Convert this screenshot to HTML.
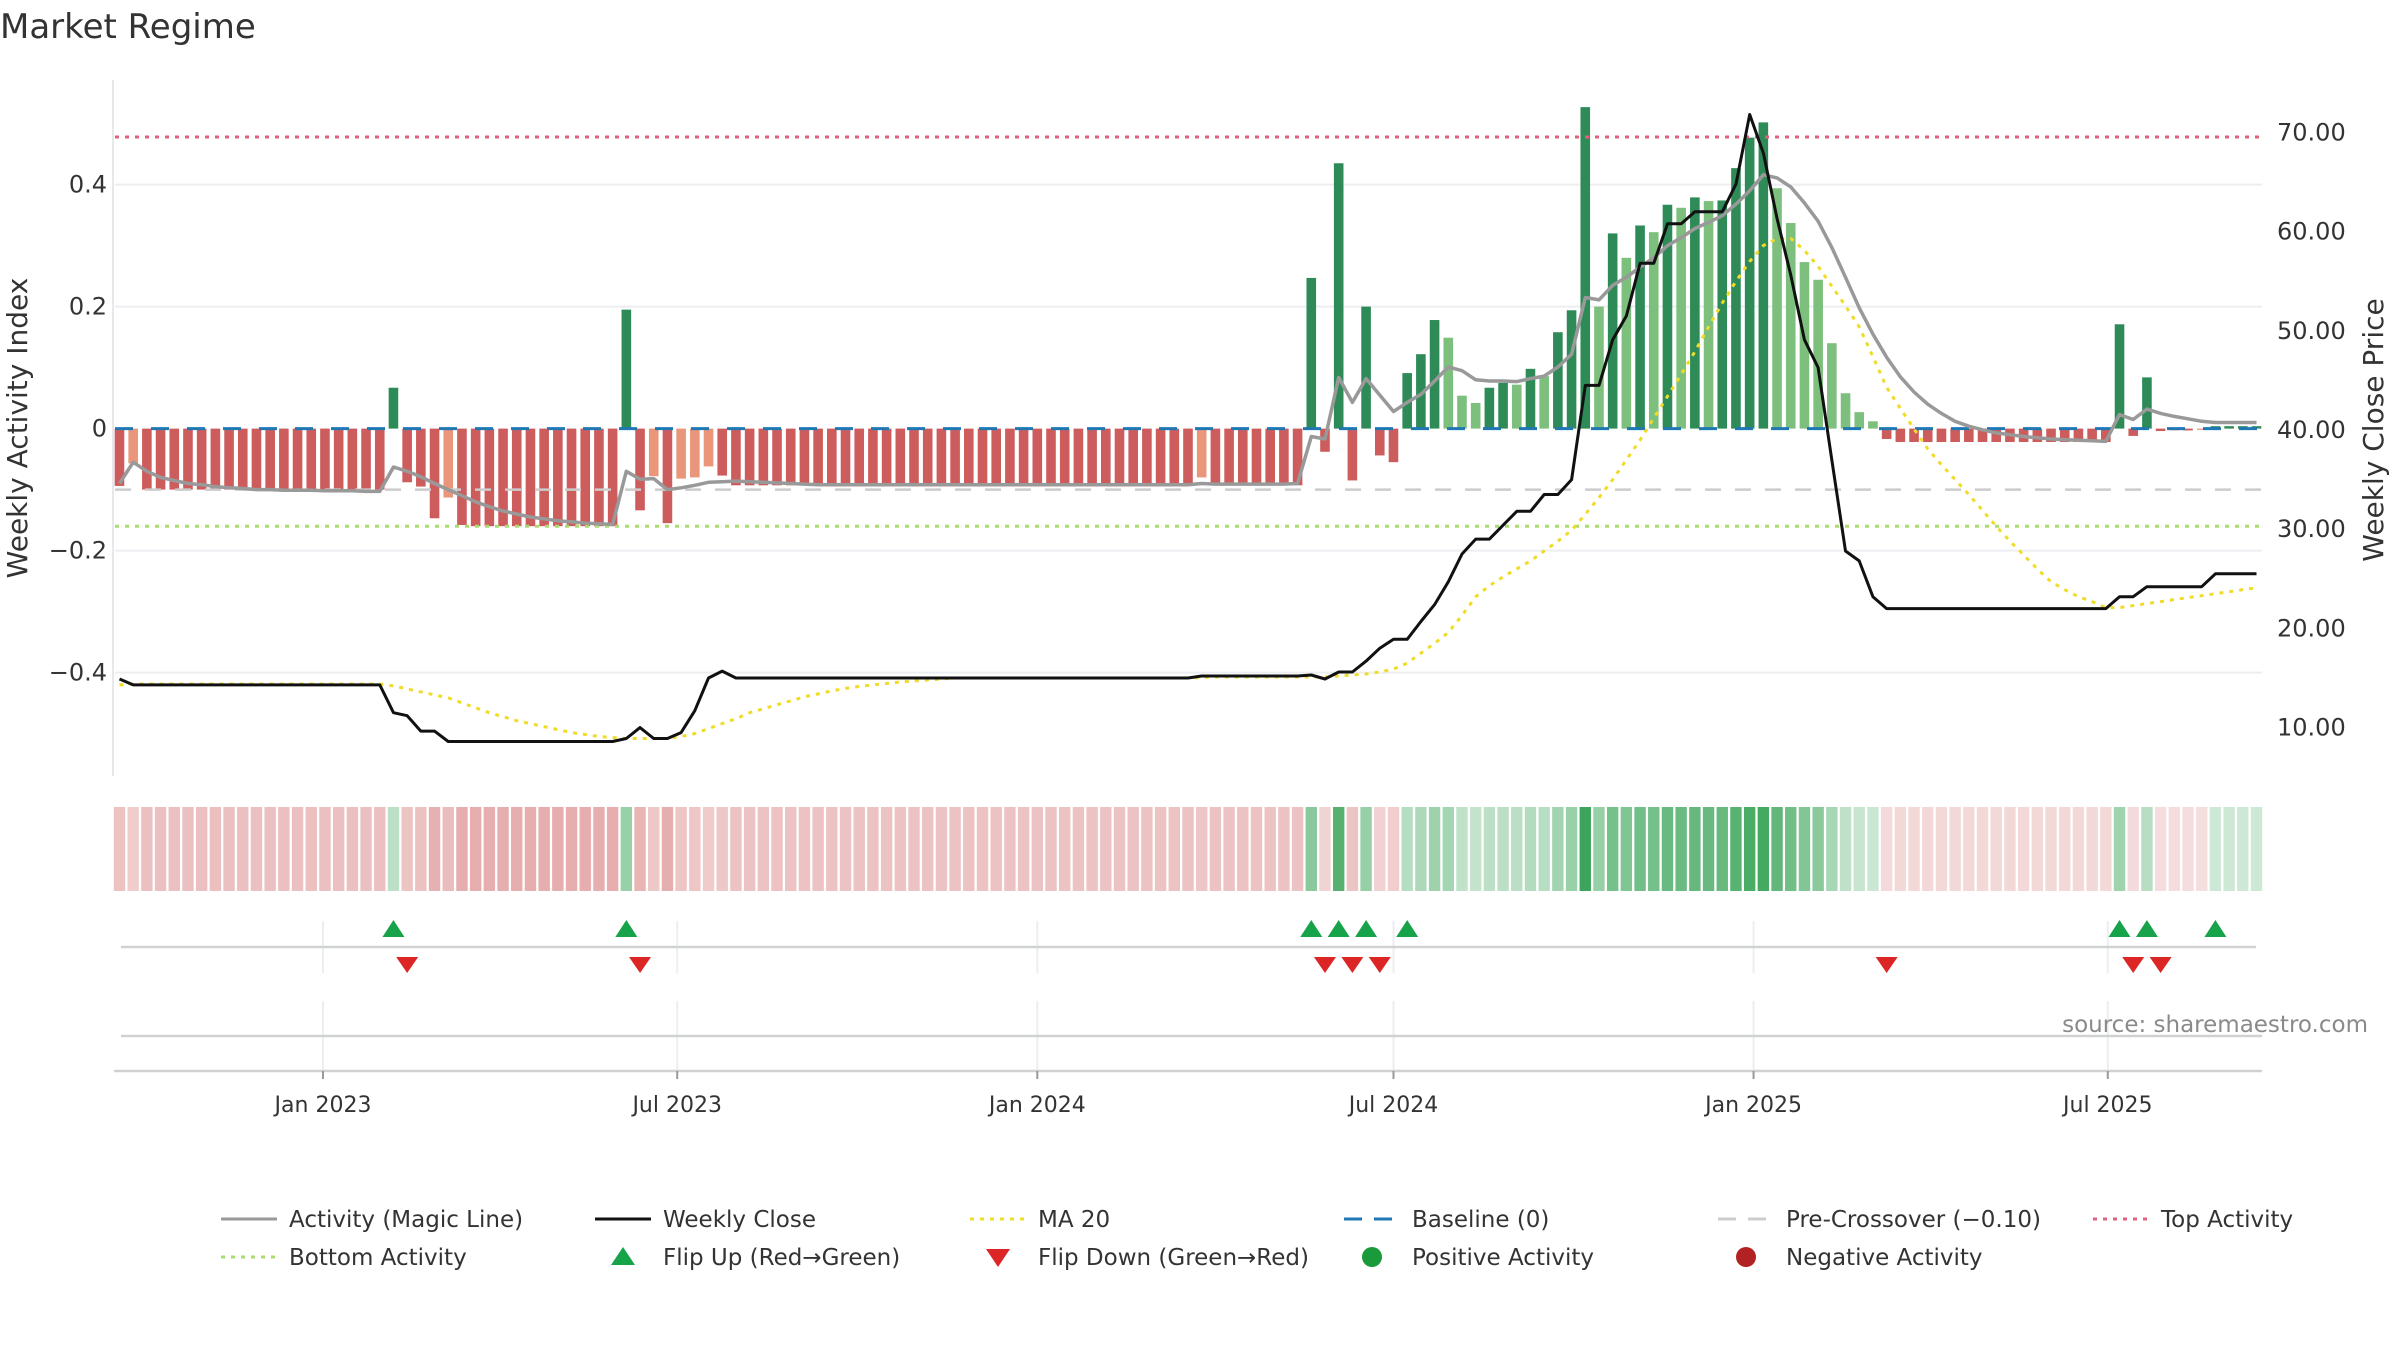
<!DOCTYPE html>
<html><head><meta charset="utf-8"><style>
html,body{margin:0;padding:0;background:#fff;}
body{width:2400px;height:1350px;overflow:hidden;font-family:"Liberation Sans","DejaVu Sans",sans-serif;}
svg text{font-family:"DejaVu Sans","Liberation Sans",sans-serif;}
</style></head><body>
<svg id="chart" width="2400" height="1350" viewBox="0 0 2400 1350" xmlns="http://www.w3.org/2000/svg">
<text x="0" y="38" font-size="34" fill="#333">Market Regime</text>
<g id="grid"></g><g id="bars"></g><g id="lines"></g><g id="strip"></g><g id="markers"></g><g id="axes"></g>
<text transform="translate(27,428) rotate(-90)" text-anchor="middle" font-size="28" fill="#333">Weekly Activity Index</text>
<text transform="translate(2383,430) rotate(-90)" text-anchor="middle" font-size="28" fill="#333">Weekly Close Price</text>
<text x="2368" y="1032" text-anchor="end" font-size="23" fill="#8a8a8a">source: sharemaestro.com</text>
<g id="legend"></g>
</svg>
<script>
const activity=[-0.094,-0.057,-0.1,-0.1,-0.1,-0.1,-0.1,-0.1,-0.1,-0.1,-0.1,-0.1,-0.1,-0.1,-0.1,-0.1,-0.1,-0.1,-0.1,-0.1,
0.067,-0.088,-0.095,-0.147,-0.113,-0.158,-0.16,-0.16,-0.16,-0.16,-0.16,-0.16,-0.16,-0.16,-0.16,-0.16,-0.16,0.195,-0.134,-0.078,
-0.155,-0.082,-0.08,-0.062,-0.077,-0.093,-0.093,-0.093,-0.093,-0.093,-0.093,-0.093,-0.093,-0.093,-0.093,-0.093,-0.093,-0.093,-0.093,-0.093,
-0.093,-0.093,-0.093,-0.093,-0.093,-0.093,-0.093,-0.093,-0.093,-0.093,-0.093,-0.093,-0.093,-0.093,-0.093,-0.093,-0.093,-0.093,-0.093,-0.08,
-0.093,-0.093,-0.093,-0.093,-0.093,-0.093,-0.093,0.247,-0.038,0.435,-0.085,0.2,-0.044,-0.055,0.091,0.122,0.178,0.149,0.054,0.042,
0.067,0.075,0.072,0.098,0.086,0.158,0.194,0.527,0.2,0.32,0.28,0.333,0.322,0.367,0.362,0.379,0.373,0.374,0.427,0.477,
0.502,0.394,0.337,0.273,0.244,0.14,0.058,0.027,0.012,-0.017,-0.022,-0.022,-0.022,-0.022,-0.022,-0.022,-0.022,-0.022,-0.022,-0.022,
-0.022,-0.022,-0.022,-0.022,-0.022,-0.022,0.171,-0.012,0.084,-0.004,-0.003,-0.003,-0.002,0.004,0.004,0.004,0.004];
const magicLine=[-0.09,-0.055,-0.07,-0.08,-0.085,-0.09,-0.092,-0.095,-0.097,-0.098,-0.1,-0.1,-0.101,-0.101,-0.101,-0.102,-0.102,-0.102,-0.103,-0.103,
-0.063,-0.07,-0.079,-0.09,-0.1,-0.11,-0.12,-0.128,-0.135,-0.14,-0.145,-0.148,-0.151,-0.153,-0.155,-0.156,-0.157,-0.07,-0.083,-0.082,
-0.1,-0.097,-0.093,-0.088,-0.087,-0.086,-0.087,-0.088,-0.089,-0.09,-0.091,-0.092,-0.092,-0.092,-0.092,-0.092,-0.092,-0.092,-0.092,-0.092,
-0.092,-0.092,-0.092,-0.092,-0.092,-0.092,-0.092,-0.092,-0.092,-0.092,-0.092,-0.092,-0.092,-0.092,-0.092,-0.092,-0.092,-0.092,-0.092,-0.09,
-0.091,-0.091,-0.091,-0.091,-0.091,-0.091,-0.09,-0.013,-0.017,0.084,0.043,0.082,0.055,0.028,0.043,0.056,0.078,0.101,0.095,0.08,
0.078,0.078,0.077,0.082,0.086,0.101,0.122,0.215,0.211,0.235,0.248,0.265,0.28,0.3,0.313,0.328,0.338,0.349,0.368,0.39,
0.416,0.411,0.396,0.37,0.34,0.297,0.248,0.198,0.155,0.117,0.085,0.06,0.04,0.025,0.012,0.004,-0.002,-0.007,-0.01,-0.013,
-0.015,-0.017,-0.018,-0.019,-0.02,-0.021,0.023,0.015,0.032,0.025,0.02,0.016,0.012,0.01,0.01,0.01,0.01];
const weeklyClose=[14.9,14.3,14.3,14.3,14.3,14.3,14.3,14.3,14.3,14.3,14.3,14.3,14.3,14.3,14.3,14.3,14.3,14.3,14.3,14.3,
11.5,11.2,9.65,9.65,8.6,8.6,8.6,8.6,8.6,8.6,8.6,8.6,8.6,8.6,8.6,8.6,8.6,8.9,10.0,8.9,
8.9,9.5,11.7,15.0,15.7,15.0,15.0,15.0,15.0,15.0,15.0,15.0,15.0,15.0,15.0,15.0,15.0,15.0,15.0,15.0,
15.0,15.0,15.0,15.0,15.0,15.0,15.0,15.0,15.0,15.0,15.0,15.0,15.0,15.0,15.0,15.0,15.0,15.0,15.0,15.2,
15.2,15.2,15.2,15.2,15.2,15.2,15.2,15.3,14.9,15.6,15.6,16.7,18.0,18.9,18.9,20.7,22.4,24.7,27.5,29.0,
29.0,30.4,31.8,31.8,33.5,33.5,35.0,44.5,44.5,49.1,51.5,56.8,56.8,60.8,60.8,62.0,62.0,62.0,64.8,71.8,
67.9,61.3,55.6,49.1,46.3,37.0,27.8,26.8,23.2,22.0,22.0,22.0,22.0,22.0,22.0,22.0,22.0,22.0,22.0,22.0,
22.0,22.0,22.0,22.0,22.0,22.0,23.2,23.2,24.2,24.2,24.2,24.2,24.2,25.5,25.5,25.5,25.5];
const ma20=[14.3,14.4,14.4,14.4,14.4,14.4,14.4,14.4,14.4,14.4,14.4,14.4,14.4,14.4,14.4,14.4,14.4,14.4,14.4,14.4,
14.2,13.9,13.6,13.3,13.0,12.5,12.0,11.5,11.1,10.7,10.4,10.1,9.8,9.5,9.3,9.1,9.0,8.9,8.9,8.9,
8.9,9.1,9.4,9.9,10.4,10.9,11.5,11.9,12.3,12.7,13.1,13.4,13.7,13.95,14.15,14.3,14.45,14.6,14.7,14.8,
14.9,15.0,15.0,15.0,15.0,15.0,15.0,15.0,15.0,15.0,15.0,15.0,15.0,15.0,15.0,15.0,15.0,15.0,15.0,15.05,
15.1,15.1,15.1,15.1,15.1,15.1,15.1,15.1,15.1,15.2,15.3,15.4,15.6,15.9,16.5,17.5,18.5,19.6,21.3,23.2,
24.3,25.2,26.0,26.8,27.8,28.8,29.9,31.5,33.2,35.0,37.0,39.0,41.2,43.4,45.6,47.9,50.4,52.8,55.0,57.0,
58.6,59.3,59.3,58.1,56.5,54.5,52.5,50.4,47.4,44.3,42.2,40.1,38.1,36.5,35.0,33.5,31.9,30.3,28.8,27.4,
26.0,24.7,23.9,23.2,22.7,22.1,22.1,22.3,22.5,22.7,22.9,23.1,23.3,23.5,23.7,23.9,24.1];
const leftTicks=[0.4,0.2,0,-0.2,-0.4];
const leftTickLabels=["0.4","0.2","0","\u22120.2","\u22120.4"];
const rightTicks=[70,60,50,40,30,20,10];
const xTickDates=["2023-01-01","2023-07-01","2024-01-01","2024-07-01","2025-01-01","2025-07-01"];
const xTickLabels=["Jan 2023","Jul 2023","Jan 2024","Jul 2024","Jan 2025","Jul 2025"];
const startDate="2022-09-19";
const topActivity=0.478, bottomActivity=-0.16, preCross=-0.1;

const NS="http://www.w3.org/2000/svg";
const DAY=86400000, JAN23=Date.UTC(2023,0,1);
function xDate(s){const p=s.split('-');return 323+(Date.UTC(+p[0],+p[1]-1,+p[2])-JAN23)/DAY*1.957;}
const x0=xDate(startDate);
function xi(i){return x0+i*7*1.957;}
function yL(v){return 428.6-v*610;}
function yR(p){return 430-(p-40)*9.92;}
function mk(tag,attrs,parent){const e=document.createElementNS(NS,tag);for(const k in attrs)e.setAttribute(k,attrs[k]);parent.appendChild(e);return e;}
const G=id=>document.getElementById(id);
const grid=G('grid'),bars=G('bars'),lines=G('lines'),strip=G('strip'),markers=G('markers'),axes=G('axes'),legend=G('legend');

let ln=mk('line',{x1:113,y1:80,x2:113,y2:776,stroke:'#e6e8eb','stroke-width':2},grid);


leftTicks.forEach((v,k)=>{
  if(v!==0){const g=mk('line',{x1:115,x2:2262,y1:yL(v),y2:yL(v),stroke:'#eceef1','stroke-width':2},grid);
  
  }
  const t=mk('text',{x:107,y:yL(v)+8,'text-anchor':'end','font-size':24,fill:'#333'},axes);t.textContent=leftTickLabels[k];
  
  
});
rightTicks.forEach(p=>{
  const t=mk('text',{x:2277,y:yR(p)+8,'font-size':24,fill:'#333'},axes);t.textContent=p.toFixed(2);
  
  
});

const bw=9.6;
activity.forEach((v,i)=>{
  const prev=i>0?activity[i-1]:v;
  let c;
  if(v>=0) c=(v>=prev||prev<0)?'#2e8b57':'#7dbf7d';
  else c=(v>prev)?'#e9967a':'#cd5c5c';
  const y=Math.min(yL(0),yL(v)),h=Math.abs(yL(v)-yL(0));
  const r=mk('rect',{x:xi(i)-bw/2,y:y,width:bw,height:Math.max(h,1),fill:c},bars);
  
  
});

function hline(y,color,dash,name,w){const l=mk('line',{x1:115,x2:2262,y1:y,y2:y,stroke:color,'stroke-width':w||3,'stroke-dasharray':dash},lines);
  
  }
hline(yL(topActivity),'#e0607e','4 6','top-activity-line');
hline(yL(bottomActivity),'#a9dc72','4 6','bottom-activity-line');
hline(yL(preCross),'#cccccc','16 14','pre-crossover-line',2.5);
hline(yL(0),'#1f77b4','18 18','baseline-line');

function path(arr,yf,color,w,dash,name){
  const d=arr.map((v,i)=>(i?'L':'M')+xi(i).toFixed(1)+','+yf(v).toFixed(1)).join('');
  const p=mk('path',{d:d,fill:'none',stroke:color,'stroke-width':w,'stroke-linejoin':'round'},lines);
  if(dash)p.setAttribute('stroke-dasharray',dash);
  
  
}
path(magicLine,yL,'#999999',3.5,null,'magic-line');
path(ma20,yR,'#f0dc28',3,'4 6','ma20-line');
path(weeklyClose,yR,'#111111',3,null,'weekly-close-line');

activity.forEach((v,i)=>{
  let c;
  if(v>=0){const a=Math.min(1,0.25+0.75*v/0.53);c=`rgb(${Math.round(255-a*195)},${Math.round(255-a*90)},${Math.round(255-a*165)})`;}
  else{const a=Math.min(0.55,0.2+0.3*Math.abs(v)/0.16);c=`rgb(${Math.round(255-a*50)},${Math.round(255-a*163)},${Math.round(255-a*163)})`;}
  const r=mk('rect',{x:xi(i)-5.7,y:807,width:11.4,height:84,fill:c},strip);
  
  
});

xTickDates.forEach((d,k)=>{
  const x=xDate(d);
  mk('line',{x1:x,x2:x,y1:921,y2:973,stroke:'#eceef1','stroke-width':2},markers);
  mk('line',{x1:x,x2:x,y1:1001,y2:1071,stroke:'#eceef1','stroke-width':2},markers);
  mk('line',{x1:x,x2:x,y1:1071,y2:1079,stroke:'#999','stroke-width':2},axes);
  const t=mk('text',{x:x,y:1112,'text-anchor':'middle','font-size':22,fill:'#333'},axes);t.textContent=xTickLabels[k];
  
  
});
mk('line',{x1:121,x2:2256,y1:947,y2:947,stroke:'#cfd1d3','stroke-width':2.5},markers);
mk('line',{x1:121,x2:2262,y1:1036,y2:1036,stroke:'#cfd1d3','stroke-width':2.5},markers);
mk('line',{x1:114,x2:2262,y1:1071,y2:1071,stroke:'#cfd1d3','stroke-width':2.5},markers);
activity.forEach((v,i)=>{
  if(i===0)return;const p=activity[i-1];const x=xi(i);
  if(p<0&&v>=0){const t=mk('polygon',{points:`${x-11},937 ${x+11},937 ${x},920`,fill:'#16a34a'},markers);
    
    }
  if(p>=0&&v<0){const t=mk('polygon',{points:`${x-11},957 ${x+11},957 ${x},973`,fill:'#dc2626'},markers);
    
    }
});

function legItem(sx,sy,label,kind,color,dash){
  const g=mk('g',{},legend);
  
  
  if(kind==='line'){const l=mk('line',{x1:sx,x2:sx+56,y1:sy,y2:sy,stroke:color,'stroke-width':3},g);if(dash)l.setAttribute('stroke-dasharray',dash);}
  else if(kind==='up'){mk('polygon',{points:`${sx+16},${sy+8} ${sx+40},${sy+8} ${sx+28},${sy-10}`,fill:color},g);}
  else if(kind==='down'){mk('polygon',{points:`${sx+16},${sy-8} ${sx+40},${sy-8} ${sx+28},${sy+10}`,fill:color},g);}
  else {mk('circle',{cx:sx+28,cy:sy,r:10,fill:color},g);}
  const t=mk('text',{x:sx+68,y:sy+8,'font-size':23,fill:'#333'},g);t.textContent=label;
}
const r1=1219,r2=1257;
legItem(221,r1,'Activity (Magic Line)','line','#999');
legItem(595,r1,'Weekly Close','line','#111');
legItem(970,r1,'MA 20','line','#f0dc28','4 6');
legItem(1344,r1,'Baseline (0)','line','#1f77b4','18 12');
legItem(1718,r1,'Pre-Crossover (\u22120.10)','line','#cccccc','18 12');
legItem(2093,r1,'Top Activity','line','#e0607e','4 6');
legItem(221,r2,'Bottom Activity','line','#a9dc72','4 6');
legItem(595,r2,'Flip Up (Red\u2192Green)','up','#16a34a');
legItem(970,r2,'Flip Down (Green\u2192Red)','down','#dc2626');
legItem(1344,r2,'Positive Activity','dot','#1a9a3a');
legItem(1718,r2,'Negative Activity','dot','#b22222');
</script>
</body></html>
